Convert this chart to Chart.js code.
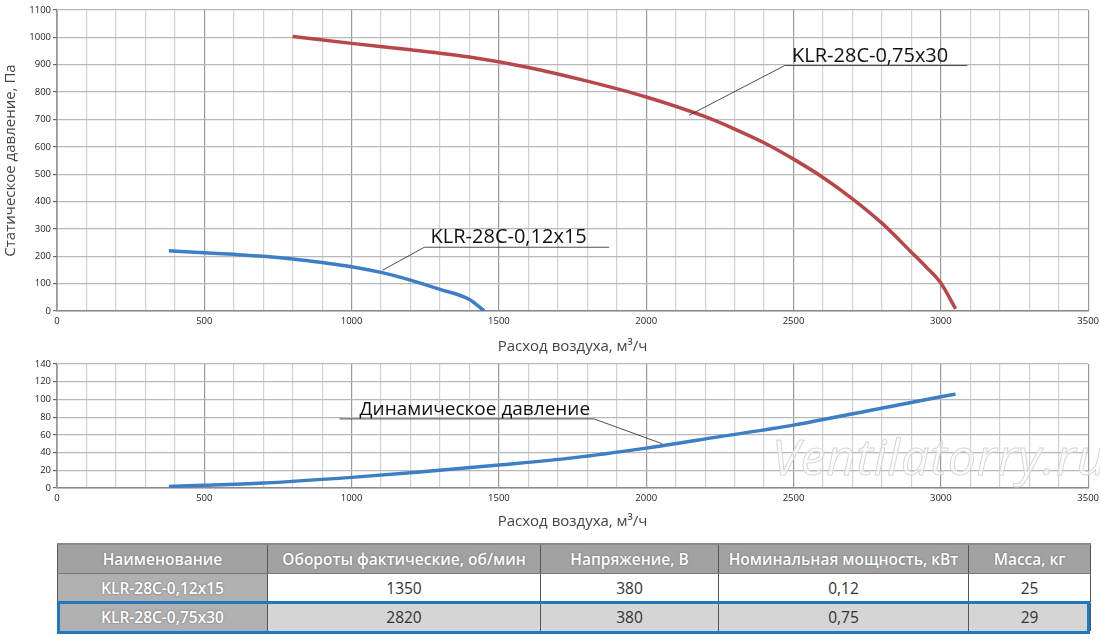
<!DOCTYPE html>
<html>
<head>
<meta charset="utf-8">
<script src="https://cdn.jsdelivr.net/npm/chart.js@4.4.1/dist/chart.umd.min.js"></script>
<style>
  body { margin: 0; background: #fff; width: 1100px; height: 639px; overflow: hidden; position: relative; font-family: "Open Sans", sans-serif; }
  canvas { position: absolute; left: 0; }
  #staticChart { top: 0; }
  #dynChart { top: 355px; }
  .watermark {
    position: absolute; left: 772px; top: 422px;
    font: italic 50px "Open Sans", sans-serif; letter-spacing: 1px;
    color: rgba(255,255,255,0.55); -webkit-text-stroke: 1px #d6d6d6;
  }
  table.specs {
    position: absolute; left: 57px; top: 543px; width: 1033px;
    border-collapse: collapse; font-size: 15.5px; color: #333; table-layout: fixed;
  }
  .specs td, .specs th { height: 28px; padding: 0; text-align: center; border-left: 1px solid #555; border-right: 1px solid #555; white-space: nowrap; }
  .specs th { background: #a2a2a2; color: #fff; font-weight: 600; text-shadow: 0 0 2px #666; border-top: 2px solid #8a8a8a; border-bottom: 1px solid #777; }
  .specs td.name { background: #b0b0b0; color: #fff; font-weight: 600; text-shadow: 0 0 2px #666; }
  .specs tr.r1 td { background: #fff; border-bottom: 1px solid #aaa; }
  .specs tr.r1 td.name { background: #b0b0b0; }
  .specs tr.r2 td { background: #d5d5d5; }
  .specs tr.r2 td.name { background: #b0b0b0; }
  .highlight { position: absolute; left: 57px; top: 601px; width: 1027px; height: 27px; border: 3px solid #1f78c1; }
</style>
</head>
<body>
<canvas id="staticChart" width="1104" height="360"></canvas>
<canvas id="dynChart" width="1104" height="180"></canvas>
<div class="watermark">Ventilatorry.ru</div>

<table class="specs">
  <colgroup><col style="width:210px"><col style="width:273px"><col style="width:178px"><col style="width:250px"><col style="width:122px"></colgroup>
  <tr><th>Наименование</th><th>Обороты фактические, об/мин</th><th>Напряжение, В</th><th>Номинальная мощность, кВт</th><th>Масса, кг</th></tr>
  <tr class="r1"><td class="name">KLR-28C-0,12x15</td><td>1350</td><td>380</td><td>0,12</td><td>25</td></tr>
  <tr class="r2"><td class="name">KLR-28C-0,75x30</td><td>2820</td><td>380</td><td>0,75</td><td>29</td></tr>
</table>
<div class="highlight"></div>

<script>
// static pressure curves
var flow012 = [380, 500, 600, 700, 800, 900, 1000, 1100, 1200, 1300, 1400, 1450];
var pres012 = [220, 213, 207, 200, 190, 177, 162, 141, 113, 79, 42, 0];

var flow075 = [800, 1000, 1200, 1400, 1600, 1800, 2000, 2200, 2300, 2400, 2500, 2600, 2700, 2800, 2900, 2950, 3000, 3050];
var pres075 = [1003, 978, 955, 928, 890, 840, 782, 710, 665, 615, 555, 488, 410, 321, 215, 161, 102, 8];

// dynamic pressure
var flowDyn = [380, 500, 700, 1000, 1250, 1500, 1750, 2000, 2250, 2500, 2750, 3000, 3050];
var presDyn = [1.8, 3, 5.6, 12, 18.7, 26, 34, 45, 58, 71, 87, 103, 106];

var xTicks = [0, 500, 1000, 1500, 2000, 2500, 3000, 3500];
var yTicksStatic = [0, 100, 200, 300, 400, 500, 600, 700, 800, 900, 1000, 1100];
var yTicksDyn = [0, 20, 40, 60, 80, 100, 120, 140];

var FONT = '"Open Sans", sans-serif';

function pts(xs, ys) {
	return xs.map(function (x, i) { return { x: x, y: ys[i] }; });
}

// leader line + underlined label
var callouts = {
	id: 'callouts',
	afterDatasetsDraw: function (chart, args, opts) {
		var ctx = chart.ctx, xs = chart.scales.x, ys = chart.scales.y;
		ctx.save();
		(opts.items || []).forEach(function (it) {
			var x1 = xs.getPixelForValue(it.lineX1), x2 = xs.getPixelForValue(it.lineX2);
			var ly = ys.getPixelForValue(it.lineY);
			var jx = it.joinRight ? x2 : x1;
			ctx.strokeStyle = '#222';
			ctx.lineWidth = 0.8;
			ctx.beginPath();
			ctx.moveTo(x1, ly); ctx.lineTo(x2, ly);
			ctx.moveTo(jx, ly);
			ctx.lineTo(xs.getPixelForValue(it.anchorX), ys.getPixelForValue(it.anchorY));
			ctx.stroke();
			ctx.fillStyle = '#111';
			ctx.font = it.size + 'px ' + FONT;
			ctx.textBaseline = 'alphabetic';
			ctx.fillText(it.text, xs.getPixelForValue(it.textX), ly - 4);
		});
		ctx.restore();
	}
};

function gridX(c) {
	var v = c.tick && c.tick.value;
	return v % 500 === 0 ? '#9a9a9a' : '#d2d2d2';
}

function makeOptions(yMax, yStep, yTicks, yTitle, yWidth, xHeight, pad, items) {
	return {
		responsive: false,
		animation: false,
		layout: { padding: pad },
		plugins: {
			legend: { display: false },
			tooltip: { enabled: false },
			callouts: { items: items }
		},
		elements: { point: { radius: 0 } },
		scales: {
			x: {
				type: 'linear', min: 0, max: 3500,
				border: { color: '#8a8a8a', width: 1.5 },
				grid: { color: gridX, lineWidth: 1.2, drawTicks: false },
				ticks: {
					stepSize: 100, autoSkip: false, maxRotation: 0, padding: 5,
					color: '#222', font: { family: FONT, size: 9.5 },
					callback: function (v) { return xTicks.indexOf(v) >= 0 ? String(v) : ''; }
				},
				title: { display: true, text: 'Расход воздуха, м³/ч', color: '#444', font: { family: FONT, size: 15 }, padding: { top: 4, bottom: 0 } },
				afterFit: function (s) { s.height = xHeight; }
			},
			y: {
				min: 0, max: yMax,
				border: { color: '#aaa', width: 1 },
				grid: { color: '#b8b8b8', lineWidth: 1.2, tickLength: 4, tickColor: '#666' },
				ticks: {
					stepSize: yStep, padding: 2, color: '#222', font: { family: FONT, size: 9.5 },
					callback: function (v) { return yTicks.indexOf(v) >= 0 ? String(v) : ''; }
				},
				title: { display: !!yTitle, text: yTitle, color: '#444', font: { family: FONT, size: 15 }, padding: { top: 2, bottom: 0 } },
				afterFit: function (s) { s.width = yWidth; }
			}
		}
	};
}

new Chart(document.getElementById('staticChart'), {
	type: 'scatter',
	data: {
		datasets: [
			{ data: pts(flow075, pres075), showLine: true, borderColor: '#b8474a', borderWidth: 3.5, cubicInterpolationMode: 'monotone' },
			{ data: pts(flow012, pres012), showLine: true, borderColor: '#3d7ec6', borderWidth: 3.5, cubicInterpolationMode: 'monotone' }
		]
	},
	options: makeOptions(1100, 100, yTicksStatic, 'Статическое давление, Па', 57, 45,
		{ top: 10, right: 4, left: 0, bottom: 4 },
		[
			{ text: 'KLR-28C-0,75x30', size: 20, textX: 2495, lineX1: 2470, lineX2: 3090, lineY: 897, anchorX: 2145, anchorY: 715 },
			{ text: 'KLR-28C-0,12x15', size: 20, textX: 1268, lineX1: 1247, lineX2: 1874, lineY: 233, anchorX: 1105, anchorY: 149 }
		]),
	plugins: [callouts]
});

new Chart(document.getElementById('dynChart'), {
	type: 'scatter',
	data: {
		datasets: [
			{ data: pts(flowDyn, presDyn), showLine: true, borderColor: '#3d7ec6', borderWidth: 3.5, cubicInterpolationMode: 'monotone' }
		]
	},
	options: makeOptions(140, 20, yTicksDyn, '', 57, 43,
		{ top: 9, right: 4, left: 0, bottom: 4 },
		[
			{ text: 'Динамическое давление', size: 19, textX: 1027, lineX1: 959, lineX2: 1823, lineY: 78, anchorX: 2054, anchorY: 50, joinRight: true }
		]),
	plugins: [callouts]
});
</script>
</body>
</html>
